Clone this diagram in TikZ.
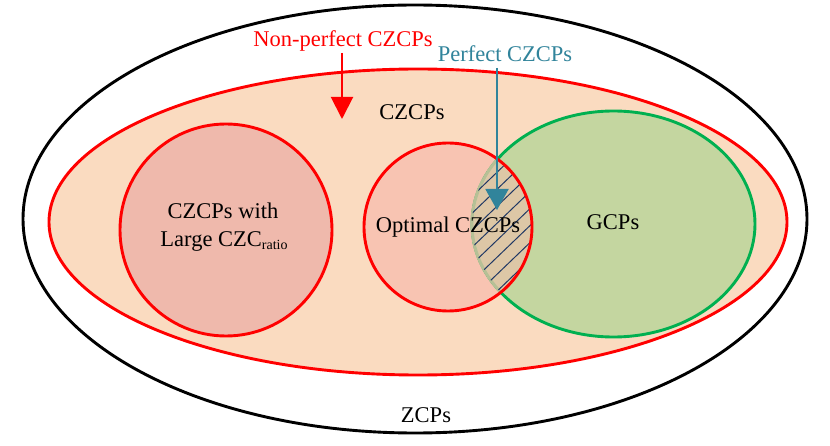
\documentclass[tikz,border=0pt]{standalone}
\usepackage{fontspec}
\setmainfont{Liberation Serif}
\usetikzlibrary{arrows.meta,shapes.geometric}
\definecolor{peach}{RGB}{250,219,192}
\definecolor{bigfill}{RGB}{239,185,172}
\definecolor{optfill}{RGB}{248,196,178}
\definecolor{gfill}{RGB}{196,214,160}
\definecolor{gline}{RGB}{0,176,80}
\definecolor{teal}{RGB}{49,132,155}
\definecolor{navy}{RGB}{32,56,100}
\definecolor{tan}{RGB}{228,196,168}
\begin{document}
\begin{tikzpicture}[x=1pt,y=-1pt,
  font=\fontsize{22.5}{26}\selectfont,
  setshape/.style={inner sep=0pt,outer sep=0pt,line width=2.9pt},
  lbl/.style={inner sep=0pt,anchor=base}]
\useasboundingbox (0,0) rectangle (830,446);
% outer ZCPs
\node[setshape,ellipse,draw=black,fill=white,minimum width=784pt,minimum height=428pt] (zcps) at (415,219) {};
% CZCPs
\node[setshape,ellipse,draw=red,fill=peach,minimum width=738pt,minimum height=306pt] (czcps) at (418,222) {};
% large ratio circle
\node[setshape,circle,draw=red,fill=bigfill,minimum size=212pt] (large) at (226,230) {};
% optimal circle fill
\node[setshape,circle,fill=optfill,minimum size=168pt] (opt) at (448,227) {};
% GCPs
\node[setshape,ellipse,draw=gline,fill=gfill,minimum width=283pt,minimum height=226pt] (gcp) at (613.5,224) {};
% intersection
\begin{scope}
  \clip (448,227) circle [radius=84];
  \fill[tan,opacity=0.8] (613.5,224) ellipse [x radius=143, y radius=114.5];
  \clip (613.5,224) ellipse [x radius=141.5, y radius=113];
  \foreach \k in {-6,...,8}
    \draw[navy,line width=1pt] (440,227+\k*17) -- ++(150,-144);
\end{scope}
% optimal circle border on top
\node[setshape,circle,draw=red,minimum size=168pt] (optb) at (448,227) {};
% labels
\node[lbl] (tzcps) at (426,422) {ZCPs};
\node[lbl] (tczcps) at (412,120) {CZCPs};
\node[lbl] (tlarge1) at (223,219) {CZCPs with};
\node[lbl] (tlarge2) at (224,247) {Large CZC\raisebox{-3pt}{\fontsize{14}{16}\selectfont ratio}};
\node[lbl] (topt) at (448,233) {Optimal CZCPs};
\node[lbl] (tgcp) at (613,230) {GCPs};
\node[lbl,text=red] (np) at (343,47) {Non-perfect CZCPs};
\node[lbl,text=teal] (pf) at (505,62) {Perfect CZCPs};
% arrows
\coordinate (npstart) at (342,53);
\coordinate (npend) at (342,119);
\draw[red,line width=2pt,-{Triangle[width=22pt,length=22pt]}] (npstart) -- (npend);
\coordinate (pfstart) at (497,68);
\coordinate (pfend) at (497,210);
\draw[teal,line width=2pt,-{Triangle[width=23pt,length=21pt]}] (pfstart) -- (pfend);
\end{tikzpicture}
\end{document}
